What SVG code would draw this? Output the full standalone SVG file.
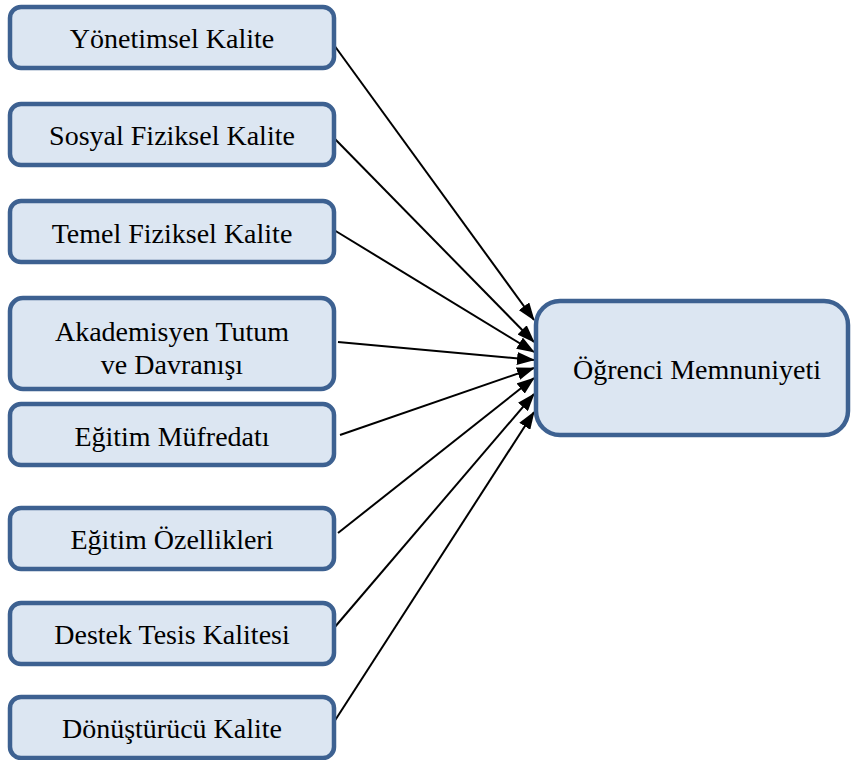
<svg xmlns="http://www.w3.org/2000/svg" width="853" height="760" viewBox="0 0 853 760">
<defs>
<style>
.box{fill:#dce6f2;stroke:#3d6191;stroke-width:4.5px}
</style>
<marker id="ah" viewBox="0 0 18 13" refX="17" refY="6.5" markerWidth="18" markerHeight="13" markerUnits="userSpaceOnUse" orient="auto">
<path d="M0,0 L18,6.5 L0,13 z" fill="#000"/>
</marker>
</defs>
<rect width="853" height="760" fill="#ffffff"/>
<g id="connectors" stroke="#000" stroke-width="2" fill="none">
<path d="M334,45 L534,320" marker-end="url(#ah)"/>
<path d="M334,138 L534,342" marker-end="url(#ah)"/>
<path d="M334,230 L534,352" marker-end="url(#ah)"/>
<path d="M338,342 L534,360" marker-end="url(#ah)"/>
<path d="M340,435 L534,368" marker-end="url(#ah)"/>
<path d="M338,533 L534,378" marker-end="url(#ah)"/>
<path d="M334,628 L534,394" marker-end="url(#ah)"/>
<path d="M334,722 L534,412" marker-end="url(#ah)"/>
</g>
<g font-family="Liberation Serif, Times New Roman, serif" font-size="28" fill="#000" text-anchor="middle">
<g id="n1"><rect class="box" x="10" y="7" width="324" height="61" rx="11"/><text x="172" y="48">Yönetimsel Kalite</text></g>
<g id="n2"><rect class="box" x="10" y="104" width="324" height="61" rx="11"/><text x="172" y="145">Sosyal Fiziksel Kalite</text></g>
<g id="n3"><rect class="box" x="10" y="201" width="324" height="61" rx="11"/><text x="172" y="243">Temel Fiziksel Kalite</text></g>
<g id="n4"><rect class="box" x="10" y="298" width="324" height="91" rx="13"/><text x="172" y="341">Akademisyen Tutum</text><text x="172" y="374">ve Davranışı</text></g>
<g id="n5"><rect class="box" x="10" y="404" width="324" height="61" rx="11"/><text x="172" y="446">Eğitim Müfredatı</text></g>
<g id="n6"><rect class="box" x="10" y="508" width="324" height="61" rx="11"/><text x="172" y="549">Eğitim Özellikleri</text></g>
<g id="n7"><rect class="box" x="10" y="603" width="324" height="61" rx="11"/><text x="172" y="644">Destek Tesis Kalitesi</text></g>
<g id="n8"><rect class="box" x="10" y="697" width="324" height="61" rx="11"/><text x="172" y="738">Dönüştürücü Kalite</text></g>
<g id="n9"><rect class="box" x="536" y="301" width="312" height="134" rx="24"/><text x="697" y="379">Öğrenci Memnuniyeti</text></g>
</g>
</svg>
